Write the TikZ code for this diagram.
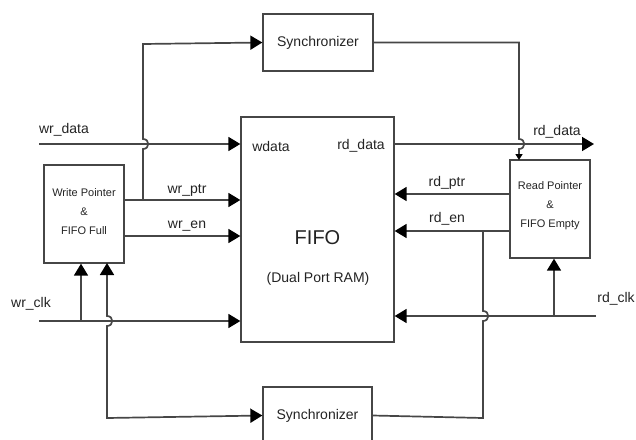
\documentclass[tikz,border=0pt]{standalone}
\usepackage{fontspec}
\setmainfont{Liberation Sans}
\usetikzlibrary{arrows.meta}
\definecolor{ln}{RGB}{70,70,70}
\definecolor{tx}{RGB}{35,35,35}
\tikzset{
  wire/.style={draw=ln, line width=1.7pt},
  arr/.style={wire, -{Triangle[length=12pt,width=14pt,color=black]}},
  sarr/.style={wire, -{Triangle[length=6pt,width=7pt,color=black]}},
  barr/.style={wire, {Triangle[length=12pt,width=14pt,color=black]}-{Triangle[length=12pt,width=14pt,color=black]}},
  blk/.style={draw=ln, line width=1.3pt, rectangle, inner sep=0pt, text=tx},
  lbl/.style={text=tx, font=\fontsize{14}{16}\selectfont, inner sep=0pt},
  small/.style={text=tx, font=\fontsize{11}{19}\selectfont, align=center, inner sep=0pt}
}
\begin{document}
\begin{tikzpicture}[x=1pt,y=-1pt]
\useasboundingbox (0,0) rectangle (636,439);
\clip (0,0) rectangle (636,439);
% blocks
\node[blk, minimum width=110pt, minimum height=57pt] (tsync) at (318,42.5) {\fontsize{14}{16}\selectfont Synchronizer};
\node[blk, minimum width=109pt, minimum height=57pt] (bsync) at (317.5,415.5) {\fontsize{14}{16}\selectfont Synchronizer};
\node[blk, minimum width=153pt, minimum height=225pt] (fifo) at (317.5,229.5) {};
\node[blk, minimum width=80pt, minimum height=98pt] (wp) at (84,214) {};
\node[blk, minimum width=80pt, minimum height=98pt] (rp) at (550,209) {};
\node[small] (wpt) at (84,212) {Write Pointer\\\&\\FIFO Full};
\node[small] (rpt) at (550,206) {Read Pointer\\\&\\FIFO Empty};
\node[text=tx, font=\fontsize{20}{22}\selectfont, inner sep=0pt] (fifot) at (317.5,238) {FIFO};
\node[lbl] (dpr) at (318,279) {(Dual Port RAM)};
% coordinates
\coordinate (wdin) at (39,144);
\coordinate (wclkin) at (39,321);
\coordinate (rdout) at (594,144);
\coordinate (rclkin) at (596,316);
\coordinate (jwp) at (143,200);
\coordinate (jren) at (483,231);
\coordinate (jrclk) at (554,316);
\coordinate (jwclk) at (81,321);
\coordinate (yptr) at (0,200);
\coordinate (yen) at (0,236);
\coordinate (rptr) at (0,194);
\coordinate (ren) at (0,231);
% write side
\draw[arr] (wdin) -- (fifo.west |- wdin);
\draw[arr] (wp.east |- yptr) -- (fifo.west |- yptr);
\draw[arr] (wp.east |- yen) -- (fifo.west |- yen);
\draw[arr] (wclkin) -- (fifo.west |- wclkin);
\draw[arr] (jwclk) -- (jwclk |- wp.south);
\draw[arr] (jwp) -- (143,149) .. controls (150,149) and (150,139) .. (143,139) -- (143,44) -- (tsync.west);
\draw[barr] (107,263) -- (107,316) .. controls (114,316) and (114,326) .. (107,326) -- (107,418) -- (bsync.west);
% read side
\draw[arr] (fifo.east |- wdin) -- (rdout);
\draw[sarr] (tsync.east) -- (519,42.5) -- (519,139) .. controls (526,139) and (526,149) .. (519,149) -- (519,160);
\draw[arr] (rp.west |- rptr) -- (fifo.east |- rptr);
\draw[arr] (rp.west |- ren) -- (fifo.east |- ren);
\draw[arr] (rclkin) -- (fifo.east |- rclkin);
\draw[arr] (jrclk) -- (jrclk |- rp.south);
\draw[wire] (jren) -- (483,311) .. controls (490,311) and (490,321) .. (483,321) -- (483,418) -- (bsync.east);
% labels
\node[lbl] (l1) at (64,130) {wr\_data};
\node[lbl] (l2) at (271,146) {wdata};
\node[lbl] (l3) at (361,146) {rd\_data};
\node[lbl] (l4) at (557,132) {rd\_data};
\node[lbl] (l5) at (187,190) {wr\_ptr};
\node[lbl] (l6) at (187,226) {wr\_en};
\node[lbl] (l7) at (447,183) {rd\_ptr};
\node[lbl] (l8) at (447,219) {rd\_en};
\node[lbl] (l9) at (31,304) {wr\_clk};
\node[lbl] (l10) at (616,299) {rd\_clk};
\end{tikzpicture}
\end{document}
